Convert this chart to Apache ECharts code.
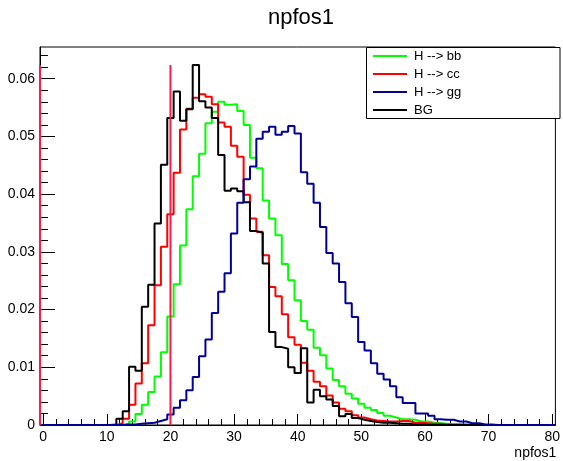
<!DOCTYPE html>
<html><head><meta charset="utf-8">
<script src="https://cdn.jsdelivr.net/npm/echarts@6/dist/echarts.min.js"></script>
<style>html,body{margin:0;padding:0;background:#fff}#c{width:563px;height:461px}</style>
</head><body><div id="c"></div>
<script>
// Histogram: 81 bins of width 1, centred on 0..80 (range -0.5 .. 80.5)
const binWidth = 1;
const firstBinCenter = 0;
const seriesNames = ['H --> bb', 'H --> cc', 'H --> gg', 'BG'];

const hbb = [
  0,0,0,0,0,0,0,0,0,0,
  0,0,0,0.0002,0.0006,0.0019,0.0035,0.0057,0.0084,0.0126,
  0.0188,0.0244,0.0311,0.0374,0.0431,0.0470,0.0523,0.0543,0.0560,0.0555,
  0.0556,0.0544,0.0520,0.0463,0.0445,0.0389,0.0358,0.0329,0.0279,0.0251,
  0.0216,0.0180,0.0165,0.0134,0.0121,0.0098,0.0078,0.0067,0.0054,0.0046,
  0.0037,0.0030,0.0026,0.0021,0.0016,0.0013,0.0010,0.0010,0.0009,0.0006,
  0.0006,0.0004,0.0003,0.0002,0.0001,0.0001,0,0,0,0,
  0,0,0,0,0,0,0,0,0,0,
  0
];
const hcc = [
  0,0,0,0,0,0,0,0,0,0,
  0,0,0.0003,0.0011,0.0035,0.0072,0.0107,0.0173,0.0242,0.0309,
  0.0365,0.0437,0.0512,0.0548,0.0567,0.0573,0.0569,0.0556,0.0524,0.0517,
  0.0484,0.0465,0.0399,0.0358,0.0335,0.0294,0.0239,0.0223,0.0192,0.0152,
  0.0139,0.0108,0.0094,0.0075,0.0067,0.0051,0.0039,0.0028,0.0024,0.0017,
  0.0013,0.0010,0.0008,0.0007,0.0006,0.0006,0.0007,0.0007,0.0004,0.0004,
  0.0003,0.0002,0.0002,0.0001,0.0001,0.0001,0.0001,0.0001,0,0,
  0,0,0,0,0,0,0,0,0,0,
  0
];
const hgg = [
  0,0,0,0,0,0,0,0,0,0,
  0,0,0,0.0001,0.0001,0.0002,0.0003,0.0004,0.0007,0.0010,
  0.0018,0.0030,0.0043,0.0060,0.0083,0.0119,0.0148,0.0194,0.0231,0.0263,
  0.0332,0.0385,0.0426,0.0448,0.0496,0.0508,0.0517,0.0503,0.0508,0.0518,
  0.0505,0.0438,0.0418,0.0385,0.0343,0.0298,0.0280,0.0248,0.0211,0.0187,
  0.0144,0.0129,0.0107,0.0089,0.0079,0.0067,0.0048,0.0038,0.0038,0.0020,
  0.0020,0.0016,0.0010,0.0009,0.0009,0.0006,0.0006,0.0003,0.0003,0.0001,
  0.0001,0,0,0,0,0,0,0,0,0,
  0
];
const bg = [
  0,0,0,0,0,0,0,0,0,0,
  0,0.0001,0.0011,0.0024,0.0101,0.0094,0.0205,0.0243,0.0349,0.0451,
  0.0532,0.0578,0.0527,0.0547,0.0624,0.0561,0.0550,0.0532,0.0468,0.0406,
  0.0410,0.0405,0.0386,0.0336,0.0333,0.0280,0.0161,0.0135,0.0132,0.0100,
  0.0090,0.0133,0.0039,0.0061,0.0050,0.0044,0.0033,0.0015,0.0019,0.0012,
  0.0009,0.0007,0.0005,0.0004,0.0004,0.0003,0.0002,0.0002,0.0001,0.0001,
  0,0,0,0,0,0,0,0,0,0,
  0,0,0,0,0,0,0,0,0,0,
  0
];

// vertical cut lines
const cutLineX = [-0.5, 20];
const cutLineTop = 0.0624;

// axes
const xRange = [-0.5, 80.5];
const yRange = [0, 0.0655];
const xMajorTicks = [0,10,20,30,40,50,60,70,80];
const xMinorTicks = [0,2,4,6,8,10,12,14,16,18,20,22,24,26,28,30,32,34,36,38,40,42,44,46,48,50,52,54,56,58,60,62,64,66,68,70,72,74,76,78,80];
const yMajorTicks = [0,0.01,0.02,0.03,0.04,0.05,0.06];
const yMinorTicks = [0,0.002,0.004,0.006,0.008,0.01,0.012,0.014,0.016,0.018,0.02,0.022,0.024,0.026,0.028,0.03,0.032,0.034,0.036,0.038,0.04,0.042,0.044,0.046,0.048,0.05,0.052,0.054,0.056,0.058,0.06,0.062,0.064];

const FONT = 'Liberation Sans';

function stepPoints(vals) {
  const pts = [];
  for (let i = 0; i < vals.length; i++) {
    const lo = firstBinCenter + i * binWidth - binWidth / 2;
    pts.push([lo, vals[i]]);
  }
  const last = vals.length - 1;
  pts.push([firstBinCenter + last * binWidth + binWidth / 2, vals[last]]);
  return pts;
}

function histSeries(name, vals, color) {
  return {
    type: 'line', name: name, data: stepPoints(vals), step: 'end',
    xAxisIndex: 0, yAxisIndex: 0,
    symbol: 'none', showSymbol: false, animation: false, silent: true,
    lineStyle: { color: color, width: 2 }, itemStyle: { color: color }, z: 2
  };
}

const series = [
  histSeries(seriesNames[0], hbb, '#00ff00'),
  histSeries(seriesNames[1], hcc, '#ff0000'),
  histSeries(seriesNames[3], bg, '#000000'),
  histSeries(seriesNames[2], hgg, '#000099')
];
cutLineX.forEach(function (x) {
  series.push({
    type: 'line', data: [[x, 0], [x, cutLineTop]], symbol: 'none', clip: false,
    animation: false, silent: true, lineStyle: { color: '#ff1a4d', width: 2 }, z: 3
  });
});

const chart = echarts.init(document.getElementById('c'), null, { renderer: 'canvas' });
chart.setOption({
  backgroundColor: '#fff',
  animation: false,
  title: {
    text: 'npfos1', left: 301, top: 7, padding: 0, textAlign: 'center',
    textStyle: { fontFamily: FONT, fontSize: 22, fontWeight: 'normal', color: '#000' }
  },
  grid: {
    left: 40, right: 3, top: 47, bottom: 36, show: true,
    borderColor: '#000', borderWidth: 1, backgroundColor: 'transparent'
  },
  legend: {
    data: seriesNames, orient: 'vertical', left: 373, top: 49, padding: 0, itemGap: 4,
    itemWidth: 34, itemHeight: 2, icon: 'rect', selectedMode: false,
    textStyle: { fontFamily: FONT, fontSize: 13, color: '#000', lineHeight: 14, padding: [0, 0, 0, 2] }
  },
  graphic: [{
    type: 'rect', z: 3, silent: true,
    shape: { x: 366.5, y: 47.5, width: 193.5, height: 71 },
    style: { fill: '#fff', stroke: '#000', lineWidth: 1 }
  }],
  xAxis: [{
    type: 'value', min: xRange[0], max: xRange[1], position: 'bottom',
    name: 'npfos1', nameLocation: 'end', nameGap: 1,
    nameTextStyle: { fontFamily: FONT, fontSize: 14, color: '#000', align: 'right', verticalAlign: 'top', padding: [21, 0, 0, 0] },
    axisLine: { show: true, onZero: false, lineStyle: { color: '#000', width: 1 } },
    axisTick: { show: true, inside: true, length: 11, customValues: xMajorTicks, lineStyle: { color: '#000' } },
    axisLabel: { show: true, customValues: xMajorTicks, margin: 5, fontFamily: FONT, fontSize: 14, color: '#000' },
    splitLine: { show: false }
  }, {
    type: 'value', min: xRange[0], max: xRange[1], position: 'bottom',
    axisLine: { show: false, onZero: false },
    axisTick: { show: true, inside: true, length: 6, customValues: xMinorTicks, lineStyle: { color: '#000' } },
    axisLabel: { show: false },
    splitLine: { show: false }
  }],
  yAxis: [{
    type: 'value', min: yRange[0], max: yRange[1], position: 'left',
    axisLine: { show: true, onZero: false, lineStyle: { color: '#000', width: 1 } },
    axisTick: { show: true, inside: true, length: 15, customValues: yMajorTicks, lineStyle: { color: '#000' } },
    axisLabel: { show: true, customValues: yMajorTicks, margin: 5, fontFamily: FONT, fontSize: 14, color: '#000' },
    splitLine: { show: false }
  }, {
    type: 'value', min: yRange[0], max: yRange[1], position: 'left',
    axisLine: { show: false, onZero: false },
    axisTick: { show: true, inside: true, length: 8, customValues: yMinorTicks, lineStyle: { color: '#000' } },
    axisLabel: { show: false },
    splitLine: { show: false }
  }],
  series: series
});
</script>
</body></html>
